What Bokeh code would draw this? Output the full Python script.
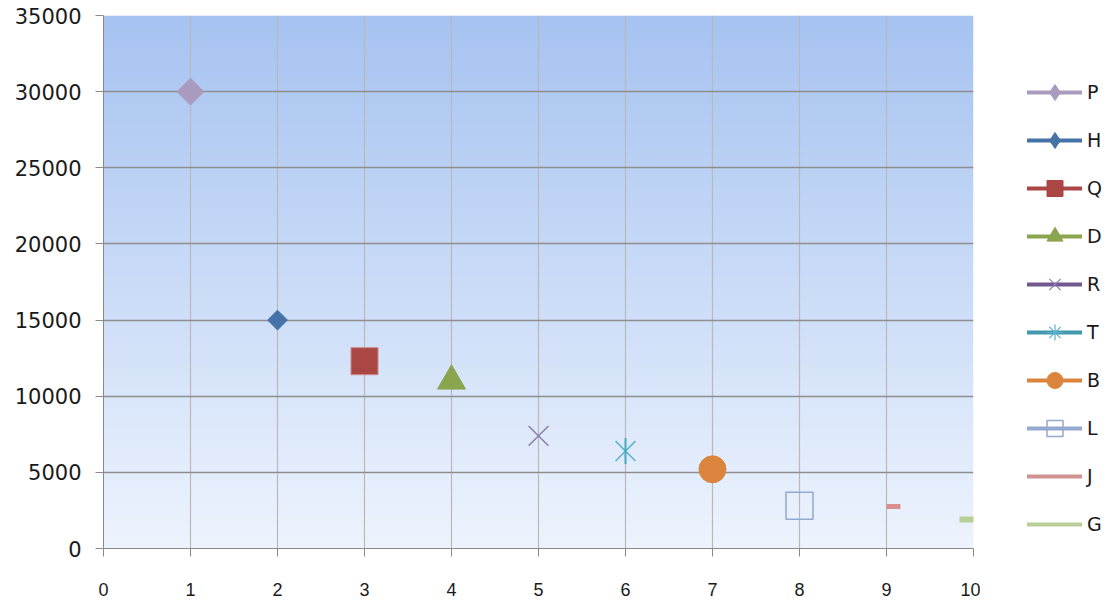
import numpy as np
from bokeh.plotting import figure
from bokeh.layouts import row
from bokeh.models import (Legend, LegendItem, FixedTicker, Range1d,
                          ColumnDataSource)
from bokeh.transform import dodge
from bokeh.embed import file_html
from bokeh.resources import INLINE

# Series data: one point per series
names = ["P", "H", "Q", "D", "R", "T", "B", "L", "J", "G"]
x_vals = [1, 2, 3, 4, 5, 6, 7, 8, 9, 10]
y_vals = [30000, 15000, 12300, 11000, 7400, 6400, 5200, 2800, 2750, 1900]
line_colors = ["#a99bbd", "#4572a7", "#aa4643", "#89a54e", "#71588f",
               "#4198af", "#db843d", "#93a9cf", "#d19392", "#b9cd96"]
x_ticks = list(range(0, 11))
y_ticks = list(range(0, 35001, 5000))

p = figure(width=980, height=608, output_backend="svg", toolbar_location=None,
           x_range=Range1d(0, 10), y_range=Range1d(0, 35000),
           min_border_left=103, min_border_right=7, min_border_top=15,
           min_border_bottom=60)
p.outline_line_color = None
p.background_fill_color = "white"
p.border_fill_color = "white"

# vertical gradient backdrop for the plot area
n_rows = 533
t = np.linspace(0.0, 1.0, n_rows)
bottom = np.array([238, 244, 254], dtype=float)
top = np.array([166, 195, 241], dtype=float)
rgb = bottom[None, :] + (top - bottom)[None, :] * t[:, None]
rgba = np.zeros((n_rows, 1, 4), dtype=np.uint8)
rgba[:, 0, :3] = rgb.astype(np.uint8)
rgba[:, 0, 3] = 255
img = rgba.view(dtype=np.uint32).reshape((n_rows, 1))
p.image_rgba(image=[img], x=0, y=0, dw=10, dh=35000, level="image")

# grid
p.xgrid.ticker = FixedTicker(ticks=x_ticks)
p.ygrid.ticker = FixedTicker(ticks=y_ticks)
p.xgrid.grid_line_color = "#b9b9b9"
p.ygrid.grid_line_color = "#8f8f8f"
p.xgrid.grid_line_width = 1.2
p.ygrid.grid_line_width = 1.3

# axes
for ax in (p.xaxis[0], p.yaxis[0]):
    ax.axis_line_color = "#8a8a8a"
    ax.major_tick_line_color = "#8a8a8a"
    ax.minor_tick_line_color = None
    ax.major_tick_out = 8
    ax.major_tick_in = 0
    ax.major_label_text_color = "#1a1a1a"
p.xaxis.ticker = FixedTicker(ticks=x_ticks)
p.yaxis.ticker = FixedTicker(ticks=y_ticks)
p.xaxis.major_label_text_font = "Liberation Sans"
p.xaxis.major_label_text_font_size = "18px"
p.xaxis.major_label_standoff = 26
p.yaxis.major_label_text_font = "DejaVu Sans"
p.yaxis.major_label_text_font_size = "21px"
p.yaxis.major_label_standoff = 14

# marker style for each series in the plot area
marker_styles = {
    "P": [dict(marker="square", size=19, angle=np.pi / 4, fill_color="#a99bbd", line_color="#a99bbd")],
    "H": [dict(marker="square", size=14, angle=np.pi / 4, fill_color="#4572a7", line_color="#4572a7")],
    "Q": [dict(marker="square", size=27, fill_color="#aa4643", line_color="#c98a89", line_width=1)],
    "D": [dict(marker="triangle", size=28, fill_color="#89a54e", line_color="#89a54e")],
    "R": [dict(marker="x", size=28, line_color="#8e7cb0", line_width=1.5)],
    "T": [dict(marker="x", size=28, line_color="#5ab4cc", line_width=1.5),
          dict(marker="dash", size=26, angle=np.pi / 2, line_color="#4aa9c2", line_width=2)],
    "B": [dict(marker="circle", size=27, fill_color="#db843d", line_color="#db843d")],
    "L": [dict(marker="square", size=27, fill_color=None, line_color="#93a9cf", line_width=1.5)],
    "J": [dict(marker="dash", size=14, line_color="#d88e8e", line_width=5, line_cap="butt")],
    "G": [dict(marker="dash", size=28, line_color="#b9cd96", line_width=6, line_cap="butt")],
}

for name, xv, yv in zip(names, x_vals, y_vals):
    src = ColumnDataSource(dict(x=[xv], y=[yv]))
    for st in marker_styles[name]:
        if name == "J":
            p.scatter(x=dodge("x", 0.08, range=p.x_range), y="y", source=src, **st)
        else:
            p.scatter(x="x", y="y", source=src, **st)

# legend panel: a bare figure whose swatch renderers sit outside its range
lg = figure(width=129, height=608, output_backend="svg", toolbar_location=None,
            x_axis_type=None, y_axis_type=None, min_border=0,
            x_range=Range1d(0, 1), y_range=Range1d(0, 1))
lg.outline_line_color = None
lg.xgrid.visible = False
lg.ygrid.visible = False

legend_markers = {
    "P": dict(marker="diamond", fill_color="#a99bbd", line_color="#a99bbd"),
    "H": dict(marker="diamond", fill_color="#4572a7", line_color="#4572a7"),
    "Q": dict(marker="square", fill_color="#aa4643", line_color="#aa4643"),
    "D": dict(marker="triangle", fill_color="#89a54e", line_color="#89a54e"),
    "R": dict(marker="x", line_color="#8e7cb0", line_width=1.2),
    "T": dict(marker="asterisk", line_color="#5ab4cc", line_width=1.2),
    "B": dict(marker="circle", fill_color="#db843d", line_color="#db843d"),
    "L": dict(marker="square", fill_color=None, line_color="#93a9cf", line_width=1.5),
}

items = []
for name, col in zip(names, line_colors):
    src = ColumnDataSource(dict(x=[5.0], y=[5.0]))
    swatches = [lg.line(x="x", y="y", source=src,
                        line_color=col, line_width=4, line_cap="round")]
    if name in legend_markers:
        swatches.append(lg.scatter(x="x", y="y", source=src,
                                   **legend_markers[name]))
    items.append(LegendItem(label=name, renderers=swatches))

legend = Legend(items=items, location=(47, 4), orientation="vertical",
                glyph_width=55, glyph_height=40, spacing=8,
                label_standoff=5, padding=0, margin=0,
                label_text_font="DejaVu Sans", label_text_font_size="19px",
                label_text_color="#1a1a1a",
                background_fill_alpha=0, border_line_color=None)
lg.add_layout(legend)

layout = row(p, lg, spacing=0)
open("out.html", "w").write(file_html(layout, INLINE))
